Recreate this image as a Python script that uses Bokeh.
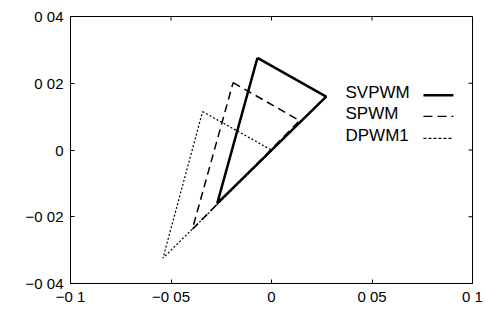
from bokeh.plotting import figure
from bokeh.models import FixedTicker, Range1d
from bokeh.core.properties import value
from bokeh.embed import file_html
from bokeh.resources import INLINE

# ---- data ----
svpwm_x = [-0.0070, 0.0272, -0.0270, -0.0070]
svpwm_y = [0.0276, 0.0160, -0.0160, 0.0276]
spwm_x = [-0.0191, 0.0139, -0.0394, -0.0191]
spwm_y = [0.0202, 0.0088, -0.0238, 0.0202]
dpwm_x = [-0.0343, 0.0003, -0.0540, -0.0343]
dpwm_y = [0.0115, -0.0001, -0.0324, 0.0115]

series_names = ["SVPWM", "SPWM", "DPWM1"]
x_ticks = [-0.1, -0.05, 0, 0.05, 0.1]
x_labels = ["\u22120 1", "\u22120 05", "0", "0 05", "0 1"]
y_ticks = [-0.04, -0.02, 0, 0.02, 0.04]
y_labels = ["\u22120 04", "\u22120 02", "0", "0 02", "0 04"]

FONT = "Liberation Sans"
X0, X1, Y0, Y1 = -0.1, 0.1, -0.04, 0.04

p = figure(width=485, height=311, output_backend="svg", toolbar_location=None,
           x_range=Range1d(X0, X1), y_range=Range1d(Y0, Y1),
           min_border_left=70, min_border_right=13, min_border_top=16,
           min_border_bottom=28)
p.grid.visible = False
p.background_fill_color = "white"
p.border_fill_color = "white"
p.outline_line_color = "black"
p.outline_line_width = 1

for ax, ticks, labels in [(p.xaxis[0], x_ticks, x_labels), (p.yaxis[0], y_ticks, y_labels)]:
    ax.ticker = FixedTicker(ticks=ticks)
    ax.major_label_overrides = {t: l for t, l in zip(ticks, labels)}
    ax.major_tick_in = 4
    ax.major_tick_out = 0
    ax.minor_tick_line_color = None
    ax.axis_line_color = "black"
    ax.major_tick_line_color = "black"
    ax.major_label_text_font = FONT
    ax.major_label_text_font_size = "15px"
    ax.major_label_text_color = "black"
p.xaxis.major_label_standoff = 4
p.yaxis.major_label_standoff = 7

# mirrored inward ticks on the top and right frame edges (about 4 px long)
tx = 4 * (X1 - X0) / 402
ty = 4 * (Y1 - Y0) / 267
p.segment(x0=[X1] * len(y_ticks), y0=y_ticks, x1=[X1 - tx] * len(y_ticks), y1=y_ticks,
          line_color="black", line_width=1)
p.segment(x0=x_ticks, y0=[Y1] * len(x_ticks), x1=x_ticks, y1=[Y1 - ty] * len(x_ticks),
          line_color="black", line_width=1)

# triangles
p.line(svpwm_x, svpwm_y, line_color="black", line_width=2.5)
p.line(spwm_x, spwm_y, line_color="black", line_width=1.5, line_dash="8 5")
p.line(dpwm_x, dpwm_y, line_color="black", line_width=1.2, line_dash="2 2")

# legend (text left, line sample right)
leg_y = [0.0172, 0.0109, 0.0043]
p.text(x=[0.0368] * 3, y=leg_y, text=series_names, text_font=value(FONT),
       text_font_size="17px", text_baseline="middle", text_align="left",
       text_color="black")
styles = [(2.5, "solid"), (1.2, "9 5"), (1.2, "3 2")]
for yy, (w, d) in zip(leg_y, styles):
    p.line([0.0756, 0.0905], [yy - 0.0008, yy - 0.0008], line_color="black",
           line_width=w, line_dash=d)

open("out.html", "w").write(file_html(p, INLINE))
